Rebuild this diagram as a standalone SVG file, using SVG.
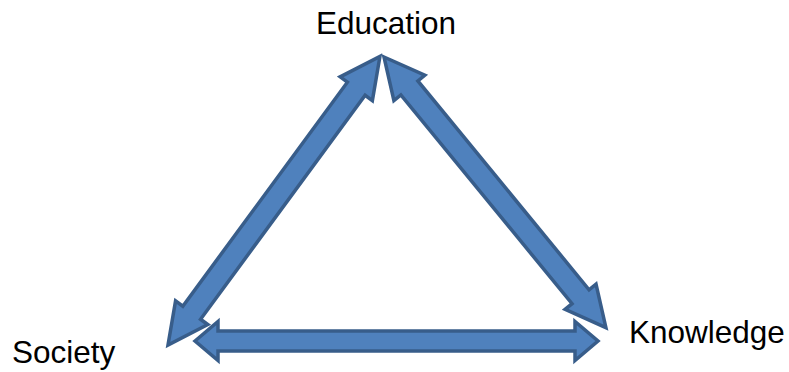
<svg xmlns="http://www.w3.org/2000/svg" width="789" height="372" viewBox="0 0 789 372">
<style>
.arrow{fill:#4f81bd;stroke:#385d8a;stroke-width:3.5;stroke-linejoin:miter;stroke-miterlimit:10}
.lbl{font-family:"Liberation Sans",Arial,sans-serif;font-size:31.5px;fill:#000}
</style>
<rect width="789" height="372" fill="#fff"/>
<g id="connectors">
<path id="edu-soc" class="arrow" transform="translate(168,345) rotate(-53.7)" d="M0,0 L40,-20 L40,-11 L318,-11 L318,-20 L358,0 L318,20 L318,11 L40,11 L40,20 Z"/>
<path id="edu-know" class="arrow" transform="translate(384,57) rotate(50.65)" d="M0,0 L40,-20 L40,-11 L310,-11 L310,-20 L350,0 L310,20 L310,11 L40,11 L40,20 Z"/>
<path id="soc-know" class="arrow" d="M195,341 L218,321.5 L218,331 L575,331 L575,321.5 L598,341 L575,360.5 L575,351 L218,351 L218,360.5 Z"/>
</g>
<g id="education"><text class="lbl" x="386" y="34" text-anchor="middle">Education</text></g>
<g id="society"><text class="lbl" x="12" y="363">Society</text></g>
<g id="knowledge"><text class="lbl" x="629" y="343">Knowledge</text></g>
</svg>
